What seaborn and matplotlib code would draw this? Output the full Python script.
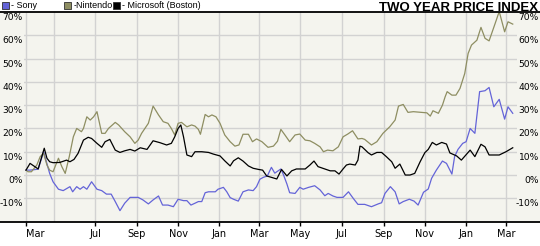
import matplotlib
matplotlib.use("Agg")
import numpy as np
import pandas as pd
import matplotlib.pyplot as plt
import seaborn as sns
from matplotlib.lines import Line2D
from matplotlib.patches import Rectangle
import matplotlib.transforms as mtransforms

# ---------------- data ----------------
START = "2005-03-21"

sony_days = [0, 6, 18, 26, 35, 40, 48, 55, 65, 69, 75, 80, 85, 90, 97, 105, 112, 119, 126, 132,
             139, 146, 154, 166, 173, 181, 188, 196, 202, 210, 218, 225, 233, 238, 244, 250, 255,
             260, 265, 270, 280, 284, 292, 297, 302, 307, 314, 321, 329, 336, 341, 346, 351, 357,
             363, 368, 377, 381, 386, 390, 398, 405, 410, 418, 427, 435, 442, 447, 454, 460, 469,
             477, 484, 491, 501, 511, 521, 526, 531, 539, 546, 552, 558, 567, 574, 580, 588, 595,
             600, 607, 616, 622, 630, 634, 639, 646, 651, 657, 664, 671, 679, 685, 692, 700, 708,
             713, 720]
sony_vals = [2.1, 2.1, 2.5, 10.0, 0.7, -2.9, -6.1, -6.7, -5.0, -7.2, -5.0, -6.1, -5.0, -6.1, -2.9,
             -6.1, -6.7, -8.2, -8.2, -11.4, -15.3, -12.1, -9.6, -9.6, -10.7, -12.4, -10.7, -9.0,
             -12.9, -12.9, -13.6, -10.4, -11.0, -11.0, -12.9, -12.1, -11.4, -11.4, -7.6, -7.2, -7.2,
             -6.1, -5.3, -7.2, -9.7, -10.4, -11.2, -7.2, -6.4, -6.7, -5.0, -1.8, -1.0, -0.4, 3.3,
             0.8, 2.6, 0.0, -3.9, -7.6, -7.9, -5.3, -6.1, -5.3, -4.6, -6.4, -8.9, -7.9, -9.0, -9.6,
             -9.6, -7.2, -10.0, -12.6, -12.6, -13.6, -12.4, -11.9, -7.9, -5.0, -7.2, -12.4, -11.4,
             -10.4, -11.2, -12.9, -7.4, -6.0, -1.4, 2.1, 6.0, 5.0, 0.4, 7.9, 11.0, 13.6, 14.3, 20.0,
             17.9, 35.8, 36.2, 37.6, 29.3, 32.5, 24.0, 29.3, 26.5]

nintendo_days = [0, 3, 8, 16, 21, 26, 31, 35, 40, 48, 53, 58, 64, 70, 75, 82, 85, 90, 95, 100, 105,
                 112, 117, 122, 132, 137, 146, 154, 161, 166, 171, 181, 188, 196, 203, 210, 215,
                 220, 225, 230, 238, 245, 250, 255, 258, 265, 270, 275, 281, 287, 294, 302, 309,
                 315, 321, 329, 335, 341, 349, 358, 366, 372, 377, 383, 390, 398, 405, 413, 420,
                 427, 435, 440, 446, 454, 462, 469, 476, 483, 491, 497, 501, 511, 519, 528, 538,
                 546, 551, 558, 565, 573, 585, 593, 598, 602, 610, 616, 620, 623, 630, 636, 642,
                 649, 654, 659, 667, 673, 679, 685, 694, 700, 708, 713, 720]
nintendo_vals = [2.1, 1.4, 1.4, 4.3, 7.9, 9.3, 4.3, 2.1, 1.4, 7.2, 3.6, 0.7, 7.9, 16.4, 20.0, 18.6,
                 20.0, 25.0, 23.6, 25.0, 27.2, 17.9, 17.9, 20.0, 22.6, 21.5, 18.6, 16.4, 13.6, 15.0,
                 17.9, 22.2, 29.6, 25.8, 22.9, 22.2, 20.0, 17.2, 22.2, 22.6, 20.7, 21.5, 21.0, 19.6,
                 17.5, 26.0, 25.0, 25.8, 25.0, 22.2, 17.2, 14.3, 12.4, 12.9, 17.5, 17.5, 14.3, 15.5,
                 14.3, 11.9, 12.4, 14.5, 19.6, 17.2, 14.3, 17.2, 17.6, 15.0, 14.7, 13.6, 12.1, 10.0,
                 10.7, 10.4, 12.1, 16.4, 17.6, 19.0, 15.5, 15.7, 15.3, 12.9, 14.3, 17.9, 20.7, 23.6,
                 29.6, 30.3, 26.9, 27.2, 26.9, 26.7, 25.3, 27.6, 26.5, 30.0, 33.6, 35.8, 34.3, 34.3,
                 37.2, 43.6, 52.2, 55.8, 57.9, 63.4, 58.7, 57.6, 65.1, 70.2, 61.5, 65.8, 64.8]

microsoft_days = [0, 6, 18, 27, 31, 35, 40, 50, 60, 65, 71, 77, 85, 92, 97, 105, 112, 117, 124, 132,
                  139, 146, 154, 161, 169, 179, 188, 198, 208, 215, 220, 225, 229, 233, 238, 245,
                  250, 260, 270, 277, 287, 294, 302, 307, 314, 321, 329, 336, 344, 350, 356, 363,
                  371, 378, 386, 393, 400, 413, 420, 426, 432, 442, 450, 457, 463, 469, 474, 479,
                  487, 491, 494, 497, 501, 506, 511, 519, 526, 533, 541, 546, 553, 561, 568, 575,
                  583, 590, 595, 601, 607, 615, 622, 627, 637, 644, 657, 664, 673, 679, 685, 700,
                  710, 720]
microsoft_vals = [2.1, 5.0, 2.6, 11.5, 7.2, 5.7, 5.3, 5.4, 6.4, 5.7, 6.7, 9.3, 15.0, 16.2, 15.7, 13.6,
                  11.9, 14.3, 15.3, 10.7, 9.7, 10.4, 11.0, 10.3, 11.7, 11.0, 14.7, 13.9, 12.9, 13.6,
                  16.4, 20.0, 21.5, 16.4, 8.6, 7.9, 10.0, 10.0, 9.7, 9.0, 8.2, 6.1, 3.9, 6.1, 7.4,
                  6.0, 3.9, 2.9, 2.4, 2.1, -0.4, -1.0, -1.7, 2.4, -0.4, 1.8, 2.6, 2.6, 4.3, 6.0, 3.6,
                  2.6, 1.8, 1.8, 0.4, 2.6, 4.3, 4.7, 4.3, 6.4, 12.4, 12.1, 11.0, 9.6, 8.6, 9.7, 9.7,
                  7.9, 5.7, 2.9, 4.7, 0.0, 0.0, 0.7, 5.7, 9.6, 11.0, 14.0, 12.9, 14.0, 13.3, 9.5,
                  8.2, 6.4, 10.7, 7.9, 13.2, 12.1, 8.6, 8.6, 10.0, 11.7]

series_names = ["Sony", "Nintendo", "Microsoft (Boston)"]
legend_labels = ["- Sony", "-Nintendo", "- Microsoft (Boston)"]
series_colors = ["#6464D8", "#8E8E62", "#000000"]

tick_dates = ["2005-03-21", "2005-07-01", "2005-09-01", "2005-11-01", "2006-01-01", "2006-03-01",
              "2006-05-01", "2006-07-01", "2006-09-01", "2006-11-01", "2007-01-01", "2007-03-01"]
tick_labels = ["Mar", "Jul", "Sep", "Nov", "Jan", "Mar", "May", "Jul", "Sep", "Nov", "Jan", "Mar"]
extra_grid_dates = ["2005-05-01"]
y_grid_values = [-10, 0, 10, 20, 30, 40, 50, 60]
y_label_values = [-10, 0, 10, 20, 30, 40, 50, 60, 70]
title = "TWO YEAR PRICE INDEX"

# ---------------- frame ----------------
start = pd.Timestamp(START)
frames = []
for name, d, v in [("Sony", sony_days, sony_vals),
                   ("Nintendo", nintendo_days, nintendo_vals),
                   ("Microsoft (Boston)", microsoft_days, microsoft_vals)]:
    frames.append(pd.DataFrame({"date": start + pd.to_timedelta(d, unit="D"),
                                "value": v, "series": name}))
df = pd.concat(frames, ignore_index=True)

W, H = 540, 246
fig = plt.figure(figsize=(W / 100, H / 100), dpi=100)
fig.patch.set_facecolor("white")

def fx(px):
    return px / W

def fy(py):
    return 1 - py / H

ax_left, ax_right, ax_top, ax_bottom = 24, 517, 12, 221.6
ax = fig.add_axes([fx(ax_left), fy(ax_bottom), fx(ax_right - ax_left), (ax_bottom - ax_top) / H])
ax.set_facecolor("none")

# background band
fig.patches.append(Rectangle((0, fy(ax_bottom)), 1, (ax_bottom - ax_top) / H,
                             transform=fig.transFigure, facecolor="#F4F4EE",
                             edgecolor="none", zorder=-5))

sns.lineplot(data=df, x="date", y="value", hue="series", hue_order=series_names,
             palette=dict(zip(series_names, series_colors)), estimator=None, sort=True,
             linewidth=0.9, legend=False, ax=ax, zorder=3)

ax.set_ylim(-20, 70)
ax.set_xlim(start - pd.Timedelta(days=2.96), start + pd.Timedelta(days=726.3))

for s in ax.spines.values():
    s.set_visible(False)

# grid
grid_kw = dict(color="#D2D2D2", linewidth=1.0, zorder=1)
for v in y_grid_values:
    ax.axhline(v, **grid_kw)
for dstr in tick_dates + extra_grid_dates:
    ax.axvline(pd.Timestamp(dstr), **grid_kw)

ax.set_yticks([])
ax.set_xticks([pd.Timestamp(t) for t in tick_dates])
ax.set_xticklabels(tick_labels, fontsize=7, family="DejaVu Sans")
ax.tick_params(axis="x", length=3, width=1, color="black", pad=2.2, direction="out")
ax.set_xlabel("")
ax.set_ylabel("")
labels = ax.get_xticklabels()
labels[0].set_horizontalalignment("left")

# y labels on both sides, hanging just below each gridline
ytrans = mtransforms.offset_copy(ax.get_yaxis_transform(), fig=fig, x=0, y=-1.0, units="dots")
for v in y_label_values:
    txt = f"{v}%"
    ax.text((23 - ax_left) / (ax_right - ax_left), v, txt, transform=ytrans, ha="right", va="top",
            fontsize=6.6, family="DejaVu Sans", clip_on=False)
    ax.text((539 - ax_left) / (ax_right - ax_left), v, txt, transform=ytrans, ha="right", va="top",
            fontsize=6.6, family="DejaVu Sans", clip_on=False)

# top & bottom rules
fig.lines.append(Line2D([0, 1], [fy(ax_top - 0.5), fy(ax_top - 0.5)], transform=fig.transFigure,
                        color="black", linewidth=1.3, zorder=10))
fig.lines.append(Line2D([0, 1], [fy(ax_bottom), fy(ax_bottom)], transform=fig.transFigure,
                        color="black", linewidth=1.3, zorder=10))

# title
fig.text(fx(538.5), fy(10.6), title, ha="right", va="baseline", fontsize=9.5,
         fontweight="bold", family="Liberation Sans")

# legend
leg_sq_x = [2, 64.3, 113.3]
leg_tx_x = [11, 73.3, 122.3]
for lab, col, sx, tx in zip(legend_labels, series_colors, leg_sq_x, leg_tx_x):
    fig.patches.append(Rectangle((fx(sx), fy(8.5)), 6.5 / W, 6.5 / H, transform=fig.transFigure,
                                 facecolor=col, edgecolor="#303030", linewidth=0.6, zorder=5))
    fig.text(fx(tx), fy(5.3), lab, ha="left", va="center", fontsize=6.5,
             family="Liberation Sans")

fig.savefig("out.png", dpi=100, facecolor="white")
